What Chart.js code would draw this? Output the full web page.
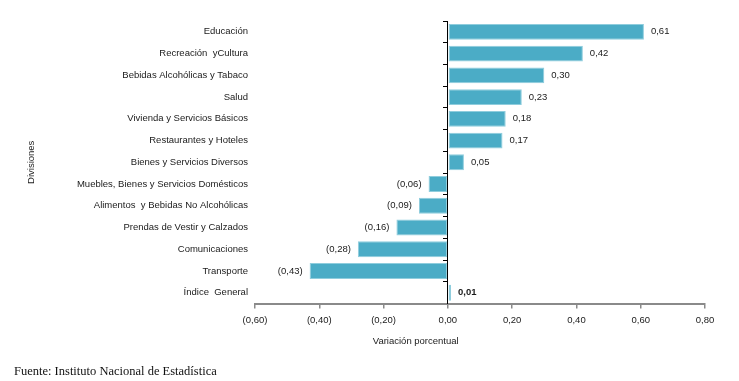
<!DOCTYPE html>
<html lang="es">
<head>
<meta charset="utf-8">
<title>Variación porcentual por divisiones</title>
<script src="https://cdn.jsdelivr.net/npm/chart.js@4.4.1/dist/chart.umd.min.js"></script>
<style>
  html, body { margin: 0; padding: 0; background: #fff; }
  #wrap { position: relative; width: 739px; height: 381px; }
  #fuente {
    position: absolute; left: 14px; top: 364px;
    font-family: "Liberation Serif", "DejaVu Serif", serif;
    font-size: 12.5px; color: #111;
  }
</style>
</head>
<body>
<div id="wrap">
  <canvas id="chart" width="739" height="381"></canvas>
  <div id="fuente">Fuente: Instituto Nacional de Estadística</div>
</div>
<script>
const categories = [
  "Educación",
  "Recreación  yCultura",
  "Bebidas Alcohólicas y Tabaco",
  "Salud",
  "Vivienda y Servicios Básicos",
  "Restaurantes y Hoteles",
  "Bienes y Servicios Diversos",
  "Muebles, Bienes y Servicios Domésticos",
  "Alimentos  y Bebidas No Alcohólicas",
  "Prendas de Vestir y Calzados",
  "Comunicaciones",
  "Transporte",
  "Índice  General"
];
const values = [0.61, 0.42, 0.30, 0.23, 0.18, 0.17, 0.05, -0.06, -0.09, -0.16, -0.28, -0.43, 0.01];
const bold_index = 12; // Índice General value is bold
const x_min = -0.6;
const x_max = 0.8;
const x_step = 0.2;
const x_title = "Variación porcentual";
const y_title = "Divisiones";

const font_family = "'Liberation Sans', Arial, sans-serif";
const text_color = "#1a1a1a";

function format_value(v) {
  const s = Math.abs(v).toFixed(2).replace(".", ",");
  return v < -1e-9 ? "(" + s + ")" : s;
}

// value labels next to each bar
const value_labels = {
  id: "value_labels",
  afterDatasetsDraw(chart) {
    const ctx = chart.ctx;
    const meta = chart.getDatasetMeta(0);
    ctx.save();
    ctx.fillStyle = text_color;
    ctx.textBaseline = "middle";
    meta.data.forEach((bar, i) => {
      const v = values[i];
      ctx.font = (i === bold_index ? "bold " : "") + "9.5px " + font_family;
      if (v >= 0) {
        ctx.textAlign = "left";
        ctx.fillText(format_value(v), bar.x + 7, bar.y);
      } else {
        ctx.textAlign = "right";
        ctx.fillText(format_value(v), bar.x - 7, bar.y);
      }
    });
    ctx.restore();
  }
};

// x axis title, drawn under the tick labels
const x_axis_title = {
  id: "x_axis_title",
  afterDraw(chart) {
    const ctx = chart.ctx;
    const xs = chart.scales.x;
    ctx.save();
    ctx.fillStyle = text_color;
    ctx.font = "9.5px " + font_family;
    ctx.textAlign = "center";
    ctx.textBaseline = "middle";
    ctx.fillText(x_title, xs.getPixelForValue(-0.1), xs.bottom + 9);
    ctx.restore();
  }
};

new Chart(document.getElementById("chart"), {
  type: "bar",
  data: {
    labels: categories,
    datasets: [
      {
        data: values,
        backgroundColor: "#4BACC6",
        borderColor: "#8FCDDD",
        borderWidth: 1,
        borderSkipped: false,
        categoryPercentage: 1,
        barPercentage: 0.73
      }
    ]
  },
  options: {
    indexAxis: "y",
    responsive: false,
    animation: false,
    layout: { padding: { left: 24, right: 34, top: 21, bottom: 49 } },
    plugins: {
      legend: { display: false },
      tooltip: { enabled: false }
    },
    scales: {
      x: {
        min: x_min,
        max: x_max,
        ticks: {
          stepSize: x_step,
          color: text_color,
          padding: 6,
          font: { family: font_family, size: 9.5 },
          callback: (v) => format_value(v)
        },
        grid: { drawOnChartArea: false, color: "#8a8a8a", tickLength: 5, lineWidth: 1.5 },
        border: { color: "#8a8a8a", width: 2 }
      },
      y: {
        ticks: {
          color: text_color,
          padding: 7,
          font: { family: font_family, size: 9.5 }
        },
        grid: { display: false, drawTicks: false },
        border: { display: false },
        title: {
          display: true,
          text: y_title,
          color: text_color,
          padding: 2,
          font: { family: font_family, size: 9.5 }
        },
        afterFit: (scale) => {
          scale.width = 231;
        }
      },
      y_zero: {
        type: "category",
        labels: categories,
        position: { x: 0 },
        offset: true,
        ticks: { display: false },
        grid: { offset: true, drawOnChartArea: false, color: "#000", tickLength: 4 },
        border: { color: "#000", width: 1 }
      }
    }
  },
  plugins: [value_labels, x_axis_title]
});
</script>
</body>
</html>
